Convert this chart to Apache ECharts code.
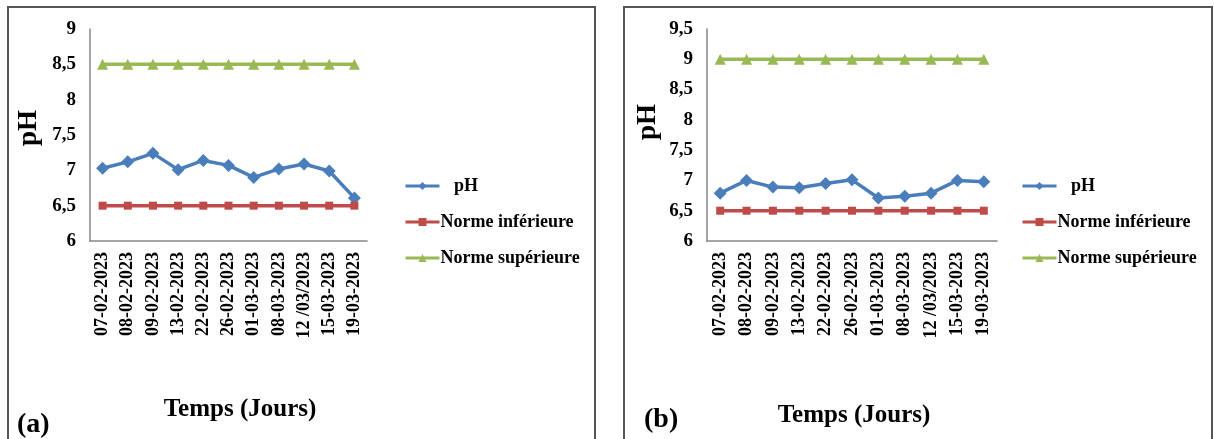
<!DOCTYPE html>
<html>
<head>
<meta charset="utf-8">
<script src="https://cdn.jsdelivr.net/npm/echarts@6/dist/echarts.min.js"></script>
<style>
  html, body { margin: 0; padding: 0; background: #fff; }
  #chart { width: 1214px; height: 439px; }
</style>
</head>
<body>
<div id="chart"></div>
<script>
// sampling dates (same for both panels)
const dates = ['07-02-2023', '08-02-2023', '09-02-2023', '13-02-2023', '22-02-2023',
  '26-02-2023', '01-03-2023', '08-03-2023', '12 /03/2023', '15-03-2023', '19-03-2023'];

// panel (a)
const phA = [7.03, 7.12, 7.24, 7.01, 7.14, 7.07, 6.90, 7.02, 7.09, 6.99, 6.61];
const lowA = [6.5, 6.5, 6.5, 6.5, 6.5, 6.5, 6.5, 6.5, 6.5, 6.5, 6.5];
const highA = [8.5, 8.5, 8.5, 8.5, 8.5, 8.5, 8.5, 8.5, 8.5, 8.5, 8.5];

// panel (b)
const phB = [6.79, 7.00, 6.89, 6.88, 6.95, 7.01, 6.71, 6.74, 6.79, 7.00, 6.98];
const lowB = [6.5, 6.5, 6.5, 6.5, 6.5, 6.5, 6.5, 6.5, 6.5, 6.5, 6.5];
const highB = [9, 9, 9, 9, 9, 9, 9, 9, 9, 9, 9];

const yTicksA = { min: 6, max: 9 };
const yTicksB = { min: 6, max: 9.5 };

const font = "'Liberation Serif', 'Times New Roman', serif";
const blue = '#4a7ebb', red = '#be4b48', green = '#98b954';
const axisGray = '#868686';

const chart = echarts.init(document.getElementById('chart'));

function xAxis(gridIndex) {
  return {
    type: 'category', gridIndex, data: dates, boundaryGap: true,
    axisLine: { lineStyle: { color: axisGray, width: 1.5 } },
    axisTick: { show: false },
    axisLabel: { rotate: 90, interval: 0, margin: 11, color: '#000',
      fontFamily: font, fontWeight: 'bold', fontSize: 18 }
  };
}
function yAxis(gridIndex, ticks, gap, lift) {
  return {
    type: 'value', gridIndex, min: ticks.min, max: ticks.max, interval: 0.5,
    name: 'pH', nameLocation: 'middle', nameGap: gap, nameRotate: 90,
    nameTextStyle: { color: '#000', fontFamily: font, fontWeight: 'bold', fontSize: 27, padding: [0, 0, 0, lift] },
    axisLine: { show: true, lineStyle: { color: axisGray, width: 1.5 } },
    axisTick: { show: false },
    splitLine: { show: false },
    axisLabel: { color: '#000', fontFamily: font, fontWeight: 'bold', fontSize: 19, margin: 14,
      formatter: v => String(v).replace('.', ',') }
  };
}
function legend(left) {
  return {
    orient: 'vertical', left, top: 172, itemWidth: 34, itemHeight: 10, itemGap: 18,
    data: ['pH', 'Norme inférieure', 'Norme supérieure'],
    formatter: n => n === 'pH' ? '   pH' : n,
    lineStyle: { width: 3 },
    textStyle: { color: '#000', fontFamily: font, fontWeight: 'bold', fontSize: 18, lineHeight: 17, padding: [0, 0, 0, -4] },
    selectedMode: false
  };
}
function series(idx, ph, low, high) {
  return [
    { name: 'pH', type: 'line', xAxisIndex: idx, yAxisIndex: idx, data: ph,
      symbol: 'diamond', symbolSize: 13, lineStyle: { color: blue, width: 3.5 }, itemStyle: { color: blue } },
    { name: 'Norme inférieure', type: 'line', xAxisIndex: idx, yAxisIndex: idx, data: low,
      symbol: 'rect', symbolSize: 8, lineStyle: { color: red, width: 3.5 }, itemStyle: { color: red } },
    { name: 'Norme supérieure', type: 'line', xAxisIndex: idx, yAxisIndex: idx, data: high,
      symbol: 'triangle', symbolSize: 11, lineStyle: { color: green, width: 3.5 }, itemStyle: { color: green } }
  ];
}

const titleStyle = { fill: '#000', fontFamily: font, fontWeight: 'bold', fontSize: 25, align: 'center', verticalAlign: 'middle' };
const tagStyle = { fill: '#000', fontFamily: font, fontWeight: 'bold', fontSize: 28, verticalAlign: 'middle' };
const frameStyle = { stroke: '#555', lineWidth: 2, fill: null };

chart.setOption({
  animation: false,
  grid: [
    { left: 90, top: 29, width: 277, height: 212 },
    { left: 707, top: 29, width: 290, height: 212 }
  ],
  xAxis: [xAxis(0), xAxis(1)],
  yAxis: [yAxis(0, yTicksA, 47, 14), yAxis(1, yTicksB, 45, 26)],
  legend: [legend(399), legend(1016)],
  series: [...series(0, phA, lowA, highA), ...series(1, phB, lowB, highB)],
  graphic: [
    { type: 'polyline', shape: { points: [[8, 445], [8, 7], [595, 7], [595, 445]] }, style: frameStyle },
    { type: 'polyline', shape: { points: [[624, 445], [624, 7], [1212, 7], [1212, 445]] }, style: frameStyle },
    { type: 'text', x: 240, y: 410, style: Object.assign({ text: 'Temps (Jours)' }, titleStyle) },
    { type: 'text', x: 854, y: 416, style: Object.assign({ text: 'Temps (Jours)' }, titleStyle) },
    { type: 'text', x: 17, y: 425, style: Object.assign({ text: '(a)' }, tagStyle) },
    { type: 'text', x: 644, y: 420, style: Object.assign({ text: '(b)' }, tagStyle) }
  ]
});
</script>
</body>
</html>
